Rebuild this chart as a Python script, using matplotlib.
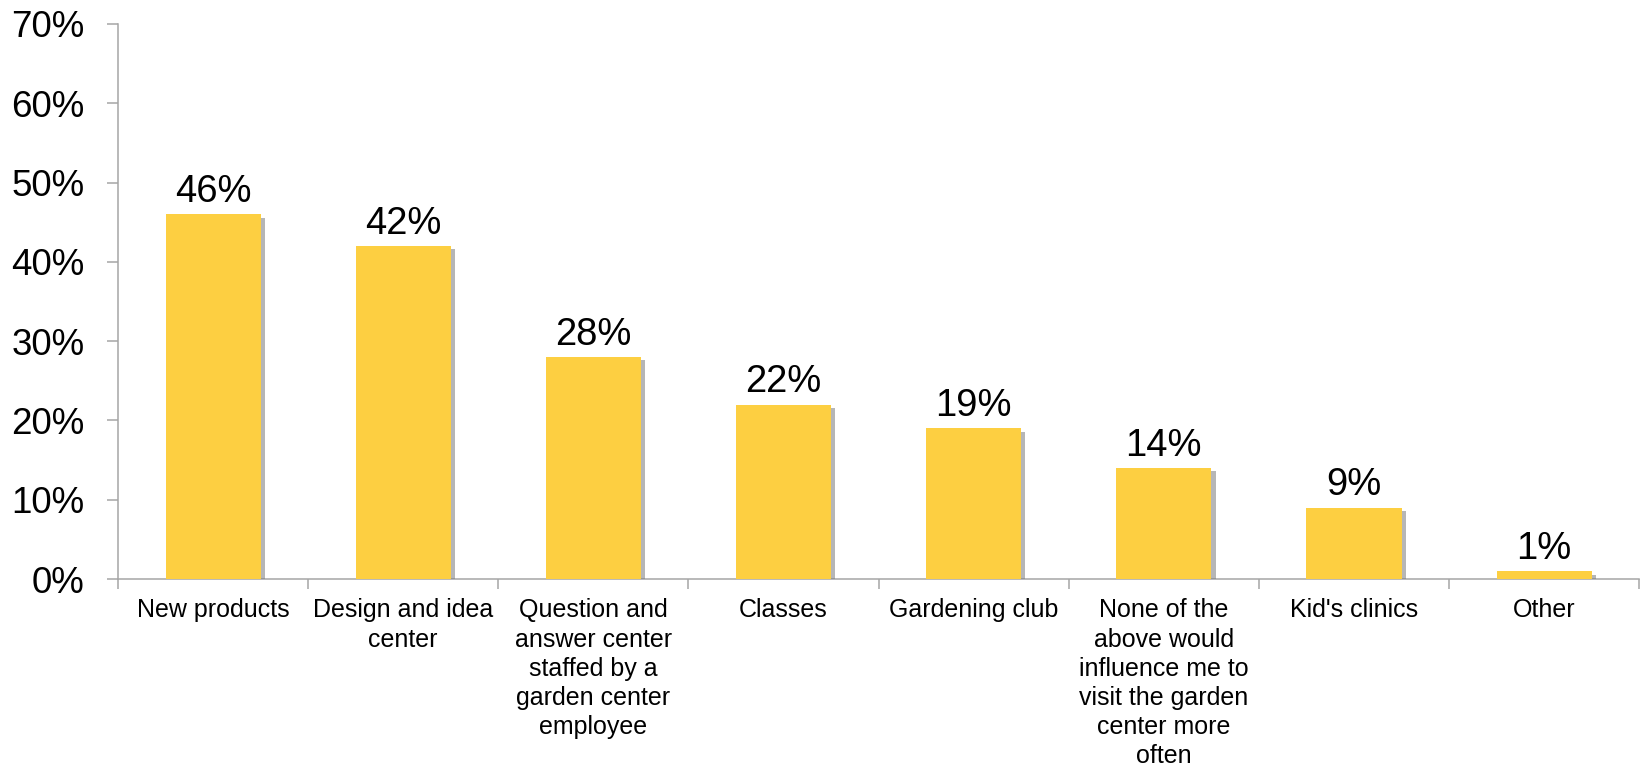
import matplotlib
matplotlib.use("Agg")
import matplotlib.pyplot as plt
import matplotlib.patheffects as pe
from matplotlib.ticker import FixedLocator, FuncFormatter

plt.rcParams["font.family"] = ["Liberation Sans", "DejaVu Sans"]

# Survey results: share of respondents per option
categories = [
    "New products",
    "Design and idea\ncenter",
    "Question and\nanswer center\nstaffed by a\ngarden center\nemployee",
    "Classes",
    "Gardening club",
    "None of the\nabove would\ninfluence me to\nvisit the garden\ncenter more\noften",
    "Kid's clinics",
    "Other",
]
values = [46, 42, 28, 22, 19, 14, 9, 1]
y_ticks = [0, 10, 20, 30, 40, 50, 60, 70]

bar_color = "#FDCF41"
axis_color = "#A6A6A6"

fig = plt.figure(figsize=(16.41, 7.71), dpi=100)
ax = fig.add_axes([0.0719, 0.249, 0.927, 0.72])

x = range(len(categories))
bars = ax.bar(x, values, width=0.5, color=bar_color, zorder=3)
for b in bars:
    b.set_path_effects([
        pe.SimplePatchShadow(offset=(3, -2.5), shadow_rgbFace="#7a7a7a", alpha=0.55),
        pe.Normal(),
    ])

# value labels above each bar
for xi, v in zip(x, values):
    ax.annotate(f"{v}%", (xi, v), xytext=(0, 3), textcoords="offset points",
                ha="center", va="bottom", fontsize=27.5, color="black")

ax.set_ylim(0, 70)
ax.set_xlim(-0.5, len(categories) - 0.5)
ax.set_yticks(y_ticks)
ax.yaxis.set_major_formatter(FuncFormatter(lambda v, _: f"{int(v)}%"))
ax.tick_params(axis="y", labelsize=26.5, length=8, width=1.1, color=axis_color, pad=16)

# category labels at bar centres, tick marks between categories
ax.set_xticks(list(x))
ax.set_xticklabels(categories, fontsize=18, linespacing=1.27, va="top")
ax.tick_params(axis="x", which="major", length=0, pad=14)
ax.xaxis.set_minor_locator(FixedLocator([i - 0.5 for i in range(len(categories) + 1)]))
ax.tick_params(axis="x", which="minor", length=7, width=1.1, color=axis_color)

for side in ["top", "right"]:
    ax.spines[side].set_visible(False)
for side in ["left", "bottom"]:
    ax.spines[side].set_color(axis_color)
    ax.spines[side].set_linewidth(1.1)

fig.savefig("out.png", dpi=100)
